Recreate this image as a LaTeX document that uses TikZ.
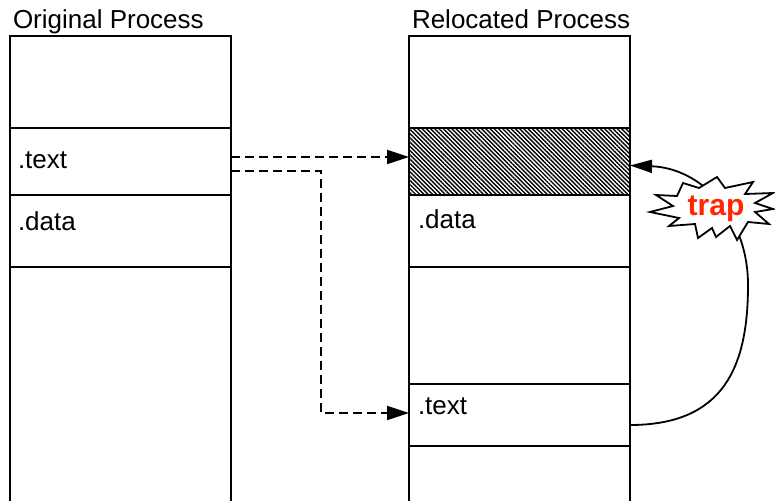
\documentclass[tikz,border=0pt]{standalone}
\usepackage{fontspec}
\setmainfont{Liberation Sans}
\usetikzlibrary{arrows.meta,patterns.meta}
\definecolor{trapred}{RGB}{255,38,0}
\begin{document}
\begin{tikzpicture}[x=1pt,y=-1pt,
  sect/.style={draw=black,line width=1.8pt,rectangle,minimum width=221pt,anchor=north west,inner sep=0pt,outer sep=0pt},
  lbl/.style={anchor=base west,inner sep=0pt,outer sep=0pt,font=\fontsize{26}{31}\selectfont},
  dasharrow/.style={line width=1.8pt,dash pattern=on 9pt off 5pt,-{Triangle[length=22pt,width=14pt]}},
  curvearrow/.style={line width=1.8pt,-{Triangle[length=22pt,width=13pt]}},
  burst/.style={draw=black,line width=1.8pt,fill=white,line join=miter},
  hatch/.style={pattern={Lines[angle=-45,distance=3pt,line width=1.4pt]},pattern color=black}
]
\useasboundingbox (0,0) rectangle (775,500);
\clip (0,0) rectangle (775,500);
% left process
\node[sect,minimum height=92pt] (ltop) at (10,36) {};
\node[sect,minimum height=67pt] (ltext) at (10,128) {};
\node[sect,minimum height=72pt] (ldata) at (10,195) {};
\node[sect,minimum height=240pt] (lrest) at (10,267) {};
% right process
\node[sect,minimum height=92pt] (rtop) at (409,36) {};
\node[sect,minimum height=67pt,hatch] (rhatch) at (409,128) {};
\node[sect,minimum height=72pt] (rdata) at (409,195) {};
\node[sect,minimum height=117pt] (rgap) at (409,267) {};
\node[sect,minimum height=62pt] (rtext) at (409,384) {};
\node[sect,minimum height=60pt] (rbot) at (409,446) {};
% titles and labels
\node[lbl] (ltitle) at (13,29) {Original Process};
\node[lbl] (rtitle) at (412,29) {Relocated Process};
\node[lbl] (ltextlbl) at (18,168) {.text};
\node[lbl] (ldatalbl) at (18,230) {.data};
\node[lbl] (rdatalbl) at (418,228) {.data};
\node[lbl] (rtextlbl) at (418,414) {.text};
% dashed connectors
\draw[dasharrow] ([yshift=4.5pt]ltext.east) -- ([yshift=4.5pt]rhatch.west);
\draw[dasharrow] ([yshift=-9.5pt]ltext.east) -- ++(90,0) |- ([yshift=2pt]rtext.west);
% trap curve
\draw[curvearrow] ([yshift=-10pt]rtext.east) .. controls (725,425) and (748,365) .. (748,285)
  .. controls (748,215) and (700,168) .. ([yshift=-4pt]rhatch.east);
% starburst
\draw[burst] (717,177) -- (725,188) -- (753,182) -- (745,194) -- (773,193) -- (755,203)
  -- (773,209) -- (755,212) -- (769,224) -- (748,222) -- (737,240) -- (730,226)
  -- (716,237) -- (712,228) -- (698,238) -- (695,224) -- (669,226) -- (679,218)
  -- (650,212) -- (673,206) -- (656,195) -- (677,196) -- (683,183) -- (699,188) -- cycle;
\node[anchor=base,inner sep=0pt,text=trapred,font=\bfseries\fontsize{30}{35}\selectfont] (trap) at (716,215) {trap};
\end{tikzpicture}
\end{document}
